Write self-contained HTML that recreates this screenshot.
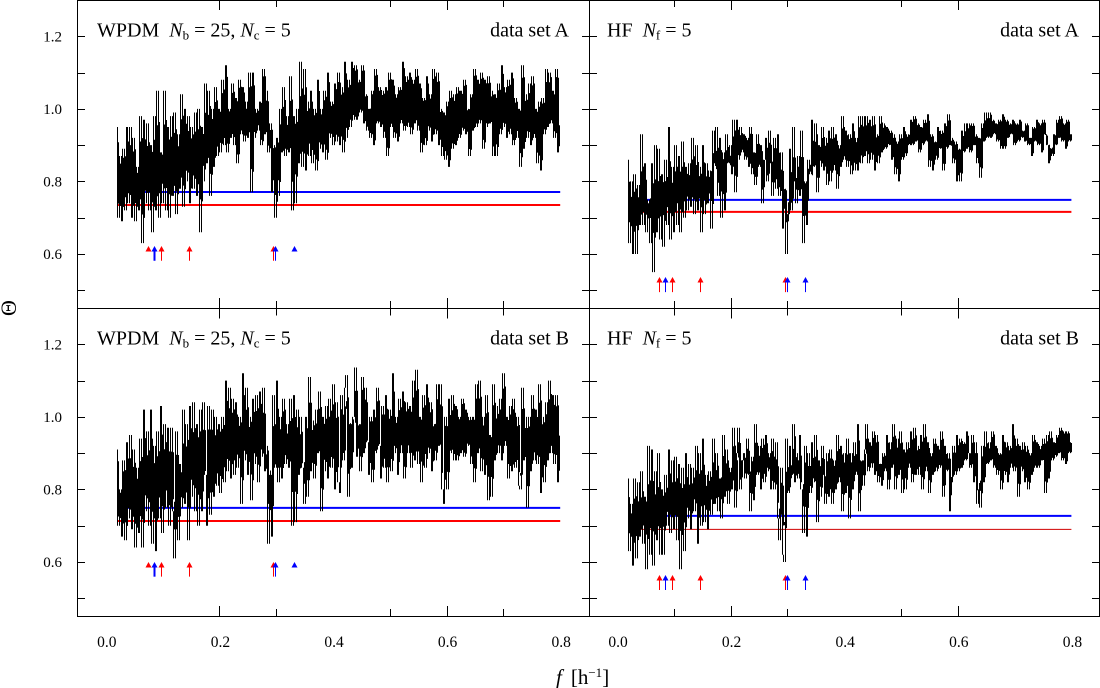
<!DOCTYPE html>
<html lang="en">
<head>
<meta charset="utf-8">
<title>Periodograms WPDM and HF for data sets A and B</title>
<style>
html,body{margin:0;padding:0;background:#fff;width:1100px;height:688px;overflow:hidden}
svg{display:block;font-family:"Liberation Serif","DejaVu Serif",serif;fill:#000}
</style>
</head>
<body>
<svg id="chart" width="1100" height="688" viewBox="0 0 1100 688" xmlns="http://www.w3.org/2000/svg">
<g id="frames" fill="none" stroke="#000" stroke-width="1">
<rect x="77.5" y="0.5" width="1022" height="616"/>
<line x1="589.5" y1="0" x2="589.5" y2="616"/>
<line x1="77" y1="308.5" x2="1100" y2="308.5"/>
</g>
<text font-size="22" text-anchor="middle" transform="translate(16,308) rotate(-90)">Θ</text>
<text x="556" y="684" font-size="21"><tspan font-style="italic">f</tspan><tspan dx="9">[h</tspan><tspan font-size="13" dy="-7">−1</tspan><tspan dy="7">]</tspan></text>

<text x="97" y="36.5" font-size="20">WPDM<tspan dx="10" font-style="italic">N</tspan><tspan font-size="13" dy="3">b</tspan><tspan dy="-3"> = 25, </tspan><tspan font-style="italic">N</tspan><tspan font-size="13" dy="3">c</tspan><tspan dy="-3"> = 5</tspan></text>
<text x="569" y="36.5" font-size="20" text-anchor="end">data set A</text>
<text x="607" y="36.5" font-size="20">HF<tspan dx="10" font-style="italic">N</tspan><tspan font-size="13" dy="3">f</tspan><tspan dy="-3"> = 5</tspan></text>
<text x="1079" y="36.5" font-size="20" text-anchor="end">data set A</text>
<text x="97" y="344.5" font-size="20">WPDM<tspan dx="10" font-style="italic">N</tspan><tspan font-size="13" dy="3">b</tspan><tspan dy="-3"> = 25, </tspan><tspan font-style="italic">N</tspan><tspan font-size="13" dy="3">c</tspan><tspan dy="-3"> = 5</tspan></text>
<text x="569" y="344.5" font-size="20" text-anchor="end">data set B</text>
<text x="607" y="344.5" font-size="20">HF<tspan dx="10" font-style="italic">N</tspan><tspan font-size="13" dy="3">f</tspan><tspan dy="-3"> = 5</tspan></text>
<text x="1079" y="344.5" font-size="20" text-anchor="end">data set B</text>
</svg>
<script>
const thetaWpdmA = [
.95,.70,.87,.69,.89,.72,.95,.74,.95,.70,.92,.69,.84,.72,.98,.63,.97,.74,.96,.72,
.90,.66,.98,.72,1.05,.70,.88,.74,1.05,.72,.95,.70,.98,.76,.99,.71,.93,.78,1.04,.73,
1.0,.80,.98,.74,.95,.78,.99,.76,1.0,.66,.95,.80,1.07,.85,1.05,.76,1.0,.84,1.06,.87,
1.0,.88,1.08,.90,1.12,.88,1.0,.92,1.07,.90,1.03,.85,1.08,.93,1.06,.91,1.02,.92,1.10,.77,
1.10,.92,1.0,.94,1.02,.90,1.11,.93,1.05,.88,.96,.77,.90,.70,.92,.76,1.0,.88,1.06,.87,
.98,.88,1.09,.72,.98,.74,1.0,.85,1.13,.84,1.11,.83,1.02,.87,1.05,.85,1.0,.83,1.08,.89,
1.0,.88,1.05,.86,1.10,.92,1.02,.90,1.07,.91,1.1,.90,1.06,.88,1.13,.92,1.08,.95,1.13,.97,
1.12,.97,1.08,.99,1.12,.96,1.04,.94,1.0,.92,1.05,.90,1.11,.96,1.06,.95,1.05,.92,1.06,.87,
1.10,.95,1.08,.92,1.04,.91,1.06,.96,1.13,.94,1.09,.95,1.10,.93,1.08,.96,1.11,.94,1.07,.88,
1.03,.90,1.09,.94,1.04,.91,1.11,.93,1.10,.90,1.0,.87,.99,.86,1.02,.84,1.05,.89,1.04,.90,
1.06,.92,1.05,.94,1.08,.93,1.0,.87,1.04,.94,1.11,.95,1.08,.96,1.10,.89,1.08,.95,1.09,.96,
1.05,.87,1.04,.87,1.07,.93,1.12,.95,1.06,.92,1.08,.93,1.10,.90,1.03,.92,1.0,.84,1.12,.89,
1.04,.92,1.07,.90,1.09,.92,1.0,.85,1.02,.83,1.03,.93,1.11,.95,1.10,.96,1.05,.92,1.11,.88,.95];

const thetaHfA = [
.86,.63,.80,.60,.82,.60,.79,.68,.93,.68,.85,.66,.75,.63,.85,.55,.90,.66,.89,.64,
.82,.62,.86,.68,.95,.64,.84,.66,.90,.68,.87,.66,.91,.70,.84,.72,.85,.73,.92,.71,
.90,.72,.84,.66,.90,.71,.85,.74,.83,.67,.94,.85,.95,.76,.92,.70,.88,.72,.93,.85,
.90,.82,.97,.77,.97,.86,.95,.88,.93,.86,.92,.84,.95,.82,.88,.79,.93,.84,.90,.74,
.86,.92,.80,.94,.85,.76,.92,.78,.93,.76,.88,.67,.78,.60,.71,.89,.72,.95,.80,.74,
.87,.76,.94,.63,.80,.68,.86,.82,.97,.84,.96,.77,.90,.84,.95,.83,.92,.79,.94,.80,
.95,.83,.93,.78,.90,.84,.98,.86,.94,.84,.93,.82,.96,.83,.92,.83,.98,.85,.98,.87,
.98,.85,.97,.86,.98,.83,.93,.85,.98,.88,.96,.89,.95,.90,.94,.86,.93,.82,.91,.80,
.93,.86,.95,.87,.93,.90,.97,.90,.98,.91,.96,.88,.95,.90,.97,.91,.985,.84,.93,.83,
.91,.86,.95,.89,.94,.83,.96,.89,.985,.90,.92,.85,.91,.80,.89,.80,.94,.88,.96,.89,
.96,.88,.96,.90,.93,.85,.92,.81,.96,.91,.99,.92,.99,.92,.97,.93,.96,.91,.97,.89,
.985,.89,.97,.92,.96,.93,.97,.90,.96,.91,.97,.92,.94,.91,.96,.90,.92,.87,.95,.91,
.97,.90,.96,.88,.97,.93,.90,.85,.89,.87,.93,.90,.97,.92,.98,.91,.96,.89,.97,.91,.93];

const thetaWpdmB = [
.91,.70,.80,.67,.88,.66,.93,.72,.95,.69,.91,.64,.86,.68,.94,.64,1.02,.74,.96,.70,
1.02,.65,.92,.63,.96,.72,1.03,.68,.98,.75,.97,.70,.97,.74,.61,.96,.66,.87,.75,1.02,
.76,.98,.66,1.03,.78,1.04,.74,.98,.70,1.02,.74,1.04,.84,.70,1.03,.73,1.02,.78,1.0,.81,
.98,.79,1.0,.82,1.10,.85,1.08,.83,1.05,.84,1.04,.86,1.0,.76,1.12,.88,1.08,.84,1.0,.77,
1.05,.87,1.06,.82,1.07,.89,1.08,.85,.92,.65,.84,.67,1.06,.86,1.10,.82,1.0,.83,1.05,.87,
.98,.86,1.05,.70,1.06,.71,1.02,.84,1.0,.86,.76,1.0,.78,1.11,.85,.99,.83,1.02,.90,1.07,
.74,1.0,.85,1.03,.83,1.05,.86,1.09,.80,1.04,.82,.79,1.06,.88,1.08,1.115,.78,.98,.86,1.0,
1.136,.89,.98,.85,1.11,.90,1.08,.93,.84,1.0,.82,1.02,.90,1.08,.92,.83,1.03,.86,1.06,.82,
1.02,.85,1.12,.90,1.0,.84,1.05,.90,1.07,.83,1.04,.90,1.03,.86,1.1,.88,1.13,.87,1.0,.82,
1.06,.86,1.09,.90,1.04,.85,.98,.88,1.09,.92,1.09,.80,.76,1.0,.80,1.05,.90,1.06,.88,1.03,
.88,1.0,.90,1.05,.89,1.02,.92,1.0,.87,1.0,.82,1.09,.90,1.1,.85,1.0,.84,1.06,.77,.95,
.78,1.09,.88,1.03,.90,1.05,.88,1.12,.92,1.0,.83,1.03,.85,1.05,.86,1.0,.81,.80,1.08,.88,
1.0,.75,1.0,.85,1.06,.88,1.02,.87,1.09,.79,1.0,.82,1.04,.88,1.10,.90,1.06,.87,1.06,.82,.95];

const thetaHfB = [
.83,.63,.76,.59,.83,.61,.82,.67,.85,.65,.78,.58,.92,.62,.91,.59,.85,.66,.90,.62,
.80,.62,.84,.70,.91,.68,.88,.69,.89,.66,.87,.58,.86,.63,.90,.72,.87,.69,.86,.74,
.92,.65,.90,.70,.94,.71,.84,.69,.85,.73,.94,.76,.90,.74,.83,.72,.95,.78,.91,.76,
.86,.80,.97,.75,.90,.97,.80,.88,.90,.83,.94,.84,.74,.89,.77,.98,.84,.92,.80,.94,
.82,.95,.85,.90,.80,.94,.80,.93,.72,.66,.86,.62,.60,.94,.79,.92,.84,.98,.82,.90,
.83,.95,.80,.68,.92,.67,.90,.79,.93,.82,.95,.71,.88,.78,.92,.84,.76,.90,.78,.91,
.76,.88,.80,.95,.82,.92,.74,.90,.79,.94,.72,.90,.80,.93,.84,.98,.74,.88,.81,.91,
.98,.85,.93,.86,.96,.84,.95,.82,.87,.81,.90,.85,.95,.80,.93,.86,.98,.80,.94,.84,
.96,.79,.91,.80,.93,.86,.96,.82,.97,.84,.92,.84,.95,.80,.98,.85,.93,.79,.90,.84,
.94,.85,.92,.86,.96,.78,.92,.85,.90,.74,.82,.92,.84,.95,.85,.94,.86,.93,.88,.96,
.90,.86,.95,.82,.93,.76,.80,.75,.92,.82,.96,.87,.93,.88,.96,.86,.92,.84,.90,.80,
.95,.84,.93,.82,.92,.86,.98,.85,.94,.78,.92,.85,.93,.82,.92,.80,.90,.84,.95,.86,
.93,.86,.92,.88,.94,.79,.95,.83,.96,.88,.93,.89,.95,.90,.97,.88,.96,.87,.96,.90,.93];

const freqStart = 0.02;
const freqEnd = 0.8;
const blueLevels = [0.771, 0.749, 0.749, 0.727];
const redLevels = [0.735, 0.716, 0.713, 0.690];
const coreWeights = [0.045, 0.025, 0.045, 0.025];
const redPeaks = [0.0735, 0.0975, 0.147, 0.295];
const bluePeaks = [0.0845, 0.2985, 0.331];
const headOnlyPeaks = [0.0735, 0.331];
const thickPeak = 0.0845;
const arrowTips = [0.622, 0.5365, 0.600, 0.5641];
const arrowBases = [0.5813, 0.495, 0.5595, 0.5227];
const yTickValues = [1.2, 1.1, 1.0, 0.9, 0.8, 0.7, 0.6, 0.5];
const yTickLabels = ["1.2", "1.0", "0.8", "0.6"];
const xTickLabels = ["0.0", "0.2", "0.4", "0.6", "0.8"];
const xTicksLeft = [0.2, 0.3, 0.5, 0.6, 0.7];
const xTicksRight = [0.1, 0.2, 0.3, 0.5, 0.6];
const longXTicks = [0.2, 0.6];
const panelSeries = [thetaWpdmA, thetaHfA, thetaWpdmB, thetaHfB];
const panelKeys = ["wpdm-a", "hf-a", "wpdm-b", "hf-b"];

const NS = "http://www.w3.org/2000/svg";
const svg = document.getElementById("chart");

function make(tag, attrs, parent) {
  const el = document.createElementNS(NS, tag);
  for (const k in attrs) el.setAttribute(k, attrs[k]);
  parent.appendChild(el);
  return el;
}

function xScale(col) {
  const x0 = col === 0 ? 105.8 : 617;
  const k = 568;
  return function (f) { return x0 + f * k; };
}

function yScale(row) {
  const off = row * 308;
  return function (v) { return off + 36.3 + (1.2 - v) * 362.8; };
}

function freqAt(i, n) {
  return freqStart + (freqEnd - freqStart) * i / (n - 1);
}

function rollingStats(series, i, radius) {
  const a = Math.max(0, i - radius);
  const b = Math.min(series.length - 1, i + radius);
  let sum = 0;
  for (let j = a; j <= b; j++) sum += series[j];
  const mean = sum / (b - a + 1);
  let sq = 0;
  for (let j = a; j <= b; j++) sq += (series[j] - mean) * (series[j] - mean);
  return { mean: mean, sd: Math.sqrt(sq / (b - a + 1)) };
}

panelSeries.forEach(function (series, p) {
  const col = p % 2;
  const row = Math.floor(p / 2);
  const X = xScale(col);
  const Y = yScale(row);
  const leftEdge = col === 0 ? 78 : 590;
  const rightEdge = col === 0 ? 589 : 1099;
  const top = row * 308 + (row ? 0.5 : 0);
  const bottom = (row + 1) * 308;

  const group = make("g", {}, svg);
  
  

  yTickValues.forEach(function (v) {
    const y = Math.round(Y(v)) + 0.5;
    const tl = make("line", { x1: leftEdge, y1: y, x2: leftEdge + 7, y2: y, stroke: "#000" }, group);
    
    
    const tr = make("line", { x1: rightEdge - 7, y1: y, x2: rightEdge, y2: y, stroke: "#000" }, group);
    
    
  });

  const xTicks = col === 0 ? xTicksLeft : xTicksRight;
  xTicks.forEach(function (f) {
    const x = Math.round(X(f)) + 0.5;
    const len = longXTicks.indexOf(f) >= 0 ? 10 : 7;
    const tt = make("line", { x1: x, y1: top, x2: x, y2: top + len, stroke: "#000" }, group);
    
    
    const tb = make("line", { x1: x, y1: bottom - len, x2: x, y2: bottom, stroke: "#000" }, group);
    
    
  });

  if (col === 0) {
    yTickLabels.forEach(function (label) {
      const t = make("text", { x: 62, y: Y(parseFloat(label)) + 5, "font-size": 15, "text-anchor": "end" }, group);
      t.textContent = label;
      
      
    });
  }
  if (row === 1) {
    xTickLabels.forEach(function (label) {
      const t = make("text", { x: X(parseFloat(label)) + 1, y: 647, "font-size": 15.5, "text-anchor": "middle" }, group);
      t.textContent = label;
      
      
    });
  }

  const thin = p === 3;
  const blueLine = make("line", { x1: X(freqStart), x2: X(freqEnd), y1: Y(blueLevels[p]), y2: Y(blueLevels[p]), stroke: "#0000ff", "stroke-width": 2 }, group);
  
  
  const redLine = make("line", { x1: X(freqStart), x2: X(freqEnd), y1: Y(redLevels[p]), y2: Y(redLevels[p]), stroke: thin ? "#d00000" : "#ff0000", "stroke-width": thin ? 1 : 2 }, group);
  
  

  const n = series.length;

  // Spikes: each consecutive pair of samples forms one vertical stroke.
  let d = "";
  // Core strokes: the same samples pulled toward the local mean, filling the gaps between spikes.
  let core = "";
  for (let i = 0; i < n - 1; i++) {
    const x = Math.round(X(freqAt(i, n))) + 0.5;
    d += "M" + x + " " + Y(series[i]).toFixed(1) + "V" + Y(series[i + 1]).toFixed(1);
    const s = rollingStats(series, i, 4);
    const k = Math.min(0.85, coreWeights[p] / Math.max(s.sd, 0.001) + 0.25);
    const a = s.mean + (series[i] - s.mean) * k;
    const b = s.mean + (series[i + 1] - s.mean) * k;
    core += "M" + (x + 1) + " " + Y(a).toFixed(1) + "V" + Y(b).toFixed(1);
  }
  const curve = make("path", { d: d, fill: "none", stroke: "#000", "stroke-width": 1 }, group);
  
  
  const coreStrokes = make("path", { d: core, fill: "none", stroke: "#000", "stroke-width": 1 }, group);
  
  

  function drawArrow(f, color) {
    const x = Math.round(X(f)) + 0.5;
    const tip = Y(arrowTips[p]);
    const base = Y(arrowBases[p]);
    const headOnly = col === 0 && headOnlyPeaks.indexOf(f) >= 0;
    const thick = col === 0 && f === thickPeak;
    if (!headOnly) {
      const shaft = make("line", { x1: x, x2: x, y1: tip + 3, y2: base, stroke: color, "stroke-width": thick ? 2 : 1 }, group);
      
      
    }
    const head = make("polygon", { points: x + "," + tip + " " + (x + 3) + "," + (tip + 5.5) + " " + (x - 3) + "," + (tip + 5.5), fill: color }, group);
    
    
  }
  redPeaks.forEach(function (f) { drawArrow(f, "#ff0000"); });
  bluePeaks.forEach(function (f) { drawArrow(f, "#0000ff"); });
});
</script>
</body>
</html>
